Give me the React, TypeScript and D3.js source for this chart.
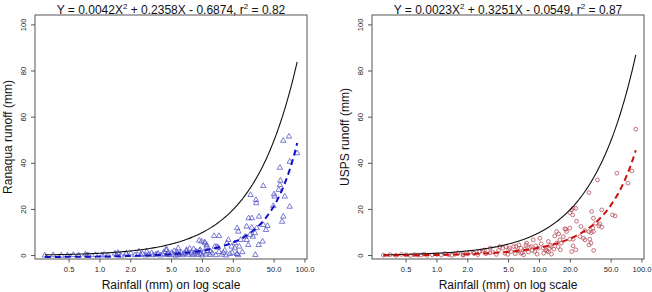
import React from "react";
import * as d3 from "d3";

// ---------- data ----------
const ranaquaRain = [
  0.29, 0.35, 0.42, 0.48, 0.55, 0.62, 0.72, 0.75, 0.78, 0.9, 1.05, 1.1, 1.2, 1.4, 1.45, 1.5, 1.6, 1.8, 2.0, 2.2,
  2.5, 2.6, 2.8, 3.0, 3.2, 3.3, 3.5, 3.7, 3.9, 4.1, 4.2, 4.4, 4.5, 4.6, 4.8, 5.0, 5.2, 5.3, 5.5, 5.6,
  5.7, 5.8, 6.0, 6.2, 6.4, 6.6, 7.0, 7.2, 7.5, 7.8, 8.0, 8.3, 8.6, 8.9, 9.1, 9.4, 9.6, 10.0, 10.3, 10.8,
  11.2, 11.8, 12.5, 13.5, 14.5, 15.5, 16.0, 17.0, 18.5, 21.8, 22.3,
  61.4, 69.8, 84, 71, 57, 57.6, 57, 39.2, 55.6, 49.9, 50.6, 63.6, 29.5, 33.3, 33.5, 71, 49.1, 61.4, 59.8,
  28.2, 30.3, 35.6, 39.2, 43, 41.7, 33.8, 30.3, 21.8, 38.6, 35.3, 32.8, 32.6, 29.1, 31, 26, 23.6, 27, 28,
  22.9, 20.7, 17.9, 19.2, 17.3, 14.5, 13.0, 13.2, 9.8, 10.6, 11, 21.8, 8.6, 5.8, 9.3, 10.5, 7.0, 9.5,
  11.0, 4.5, 1.8, 2.85, 27, 22.4, 13.8, 14.2, 20.7, 12.0, 16.5, 19.5, 24.5, 2.4, 3.6, 6.8, 8.2,
];
const ranaquaRunoff = [
  0.1, 0.2, 0.0, 0.1, 0.3, 0.1, 0.5, 0.2, 0.0, 0.3, 0.1, 0.4, 0.0, 0.9, 0.2, 1.2, 0.0, 0.6, 1.0, 0.2,
  0.3, 0.8, 0.1, 0.5, 1.1, 0.2, 0.4, 0.9, 0.1, 0.6, 1.5, 2.5, 0.3, 0.8, 0.2, 1.2, 0.5, 2.0, 0.0, 1.6,
  1.0, 0.3, 0.7, 1.3, 0.2, 0.9, 1.8, 0.4, 3.0, 1.1, 0.2, 0.6, 1.7, 1.3, 0.3, 2.0, 0.8, 0.1, 1.4, 0.5,
  2.0, 0.3, 1.0, 0.2, 1.6, 0.4, 1.2, 0.1, 0.7, 0.7, 0.2,
  49.8, 51.6, 44.4, 40.7, 38.1, 32.5, 30.6, 30.2, 28.5, 26.6, 25.6, 25.6, 26.3, 24.1, 22.7, 21.2, 21.5, 16.9, 14.7,
  16.2, 16.2, 16.9, 13.3, 12.9, 11.1, 11.9, 12.1, 11.9, 6.1, 4.6, 0.3, 9.7, 9.0, 8.2, 8.2, 6.8, 6.8, 4.6,
  3.9, 3.2, 6.8, 3.9, 5.4, 8.5, 8.5, 3.9, 6.1, 5.4, 3.9, 0.7, 1.7, 3.2, 6.5, 5.8, 2.5, 2.5,
  4.6, 2.5, 1.0, 1.7, 12.6, 10.4, 3.8, 3.5, 5.4, 1.8, 2.2, 1.2, 1.5, 1.8, 0.6, 0.9, 2.8,
];

const uspsRain = [
  0.3, 0.35, 0.4, 0.45, 0.5, 0.55, 0.6, 0.7, 0.75, 0.8, 0.9, 1.0, 1.1, 1.2, 1.3, 1.5, 1.6, 1.8, 1.8, 2.0,
  2.1, 2.3, 2.5, 2.6, 2.8, 3.0, 3.3, 3.5, 3.8, 4.0, 4.1, 4.4, 4.6, 4.7, 5.0, 5.1, 5.3, 5.6, 5.8, 5.9,
  6.1, 6.3, 6.6, 6.8, 7.0, 7.2, 7.4, 7.5, 7.8, 8.0, 8.3, 8.7, 9.0, 9.2, 9.7, 10.1, 10.4, 10.9, 11.0, 11.5,
  12.2, 12.2, 12.8, 13.1, 13.1, 13.8, 14.1, 14.7, 14.7, 15.2, 15.4, 15.8, 16.4, 17.1, 17.7, 18.1, 18.4, 19.8, 19.8, 19.8,
  20.6, 20.6, 21.1, 21.3, 21.3, 21.3, 22.6, 22.6, 23.0, 24.9, 25.4, 26.8, 27.8, 27.8, 30.4, 30.4, 30.4, 31.0, 31.9, 31.9,
  32.3, 33.2, 33.6, 33.6, 33.8, 35.4, 36.8, 38.0, 38.7, 40.5, 40.5, 51.6, 54.7, 56.9, 72.9, 79.8, 87,
  2.3, 1.8, 3.3, 2.6, 6.6, 8.5, 11.8, 12.5, 9.5, 16.0, 0.65, 1.4, 2.9, 4.9,
];
const uspsRunoff = [
  0.2, 0.4, 0.1, 0.5, 0.3, 0.0, 0.4, 0.2, 0.6, 0.1, 0.3, 0.5, 0.2, 0.8, 0.4, 0.6, 1.2, 0.2, 1.0, 0.7,
  1.5, 1.0, 0.4, 1.7, 2.0, 0.8, 3.2, 1.5, 0.5, 2.2, 3.9, 3.2, 1.0, 3.9, 2.5, 3.2, 1.7, 3.9, 0.8, 3.9,
  2.0, 4.6, 3.2, 1.2, 0.3, 2.7, 4.6, 5.4, 1.5, 3.5, 3.9, 6.8, 1.7, 4.2, 3.2, 7.5, 5.1, 3.2, 1.0, 2.5,
  6.1, 1.7, 4.5, 3.9, 0.6, 2.8, 8.5, 5.4, 10.4, 3.9, 9.4, 6.8, 5.4, 8.2, 11.6, 11.4, 10.4, 7.1, 11.9, 18.6,
  19.8, 1.7, 17.6, 4.2, 7.1, 20.5, 20.5, 2.5, 14.9, 8.2, 12.6, 7.5, 6.8, 10.8, 27.3, 10.4, 4.6, 7.1, 10.0, 5.4,
  19.1, 11.9, 16.2, 10.4, 2.2, 14.0, 32.8, 12.9, 13.7, 12.3, 19.8, 17.6, 17.2, 35.7, 31.4, 36.7, 54.8,
  1.0, 0.3, 1.2, 1.7, 1.0, 2.2, 2.0, 3.0, 0.6, 2.5, 0.2, 0.1, 2.4, 0.5,
];

// quadratic fit coefficients (a, b, c) read from the titles
const ranaquaFit = [0.0042, 0.2358, -0.6874];
const uspsFit = [0.0023, 0.3251, -0.0549];

const ranaquaTitle = ["Y = 0.0042X", "2", " + 0.2358X - 0.6874, r", "2", " = 0.82"];
const uspsTitle = ["Y = 0.0023X", "2", " + 0.3251X - 0.0549, r", "2", " = 0.87"];

const xTicks = [0.5, 1.0, 2.0, 5.0, 10.0, 20.0, 50.0, 100.0];
const yTicks = [0, 20, 40, 60, 80, 100];

// ---------- layout ----------
const W = 652;
const H = 292;
const TOP = 15;
const BOTTOM = 259;
const XDOMAIN: [number, number] = [0.2325, 104.7];
const YDOMAIN: [number, number] = [-1.5, 104.3];
const FONT = "Liberation Sans, Arial, sans-serif";

type PanelProps = {
  left: number;
  right: number;
  rain: number[];
  runoff: number[];
  fit: number[];
  title: string[];
  yLabel: string;
  marker: "triangle" | "circle";
  pointColor: string;
  fitColor: string;
};

function Panel(p: PanelProps) {
  const x = d3.scaleLog().domain(XDOMAIN).range([p.left, p.right]);
  const y = d3.scaleLinear().domain(YDOMAIN).range([BOTTOM, TOP]);
  const xmin = d3.min(p.rain) as number;
  const xmax = d3.max(p.rain) as number;
  const samples = d3.range(0, 201).map((i) => Math.exp(Math.log(xmin) + (i / 200) * (Math.log(xmax) - Math.log(xmin))));
  const line = d3
    .line<[number, number]>()
    .x((d) => x(d[0]))
    .y((d) => y(d[1]))
    .curve(d3.curveLinear);
  const oneToOne = line(samples.map((v) => [v, v] as [number, number])) || "";
  const [a, b, c] = p.fit;
  const fitPath = line(samples.map((v) => [v, a * v * v + b * v + c] as [number, number])) || "";
  const cx = (p.left + p.right) / 2;
  const cy = (TOP + BOTTOM) / 2;
  const tri = "M0,-3.1 L2.7,1.6 L-2.7,1.6 Z";

  return (
    <g>
      {/* points */}
      {p.rain.map((r, i) =>
        p.marker === "triangle" ? (
          <path
            key={i}
            d={tri}
            transform={`translate(${x(r)},${y(p.runoff[i])})`}
            fill="none"
            stroke={p.pointColor}
            strokeWidth={0.8}
          />
        ) : (
          <circle key={i} cx={x(r)} cy={y(p.runoff[i])} r={1.9} fill="none" stroke={p.pointColor} strokeWidth={0.8} />
        )
      )}
      {/* 1:1 line */}
      <path d={oneToOne} fill="none" stroke="#111" strokeWidth={1.1} />
      {/* fitted curve */}
      <path d={fitPath} fill="none" stroke={p.fitColor} strokeWidth={2} strokeDasharray="6,4" />
      {/* box */}
      <rect x={p.left} y={TOP} width={p.right - p.left} height={BOTTOM - TOP} fill="none" stroke="#555" strokeWidth={1} />
      {/* x axis */}
      {xTicks.map((t) => (
        <g key={t}>
          <line x1={x(t)} x2={x(t)} y1={BOTTOM} y2={BOTTOM + 3.5} stroke="#555" />
          <text x={x(t)} y={271.5} fontSize={7.6} textAnchor="middle" fill="#222" fontFamily={FONT}>
            {t.toFixed(1)}
          </text>
        </g>
      ))}
      {/* y axis */}
      {yTicks.map((t) => (
        <g key={t}>
          <line x1={p.left - 4} x2={p.left} y1={y(t)} y2={y(t)} stroke="#555" />
          <text
            transform={`translate(${p.left - 9},${y(t)}) rotate(-90)`}
            fontSize={7.6}
            textAnchor="middle"
            fill="#222"
            fontFamily={FONT}
          >
            {t}
          </text>
        </g>
      ))}
      {/* titles */}
      <text x={cx} y={13.5} fontSize={12} textAnchor="middle" fill="#111" fontFamily={FONT}>
        <tspan>{p.title[0]}</tspan>
        <tspan dy={-4.5} fontSize={8}>{p.title[1]}</tspan>
        <tspan dy={4.5}>{p.title[2]}</tspan>
        <tspan dy={-4.5} fontSize={8}>{p.title[3]}</tspan>
        <tspan dy={4.5}>{p.title[4]}</tspan>
      </text>
      <text x={cx} y={289} fontSize={12} textAnchor="middle" fill="#111" fontFamily={FONT}>
        Rainfall (mm) on log scale
      </text>
      <text
        transform={`translate(${p.left - 23.5},${cy}) rotate(-90)`}
        fontSize={12}
        textAnchor="middle"
        fill="#111"
        fontFamily={FONT}
      >
        {p.yLabel}
      </text>
    </g>
  );
}

export default function App() {
  return (
    <svg
      width={W}
      height={H}
      viewBox={`0 0 ${W} ${H}`}
      style={{ position: "absolute", left: 0, top: 0, background: "#fff" }}
    >
      <rect x={0} y={0} width={W} height={H} fill="#fff" />
      <Panel
        left={35}
        right={307}
        rain={ranaquaRain}
        runoff={ranaquaRunoff}
        fit={ranaquaFit}
        title={ranaquaTitle}
        yLabel="Ranaqua runoff (mm)"
        marker="triangle"
        pointColor="#5a5ac8"
        fitColor="#1010c8"
      />
      <Panel
        left={372}
        right={644}
        rain={uspsRain}
        runoff={uspsRunoff}
        fit={uspsFit}
        title={uspsTitle}
        yLabel="USPS runoff (mm)"
        marker="circle"
        pointColor="#b8505a"
        fitColor="#cc1010"
      />
    </svg>
  );
}
